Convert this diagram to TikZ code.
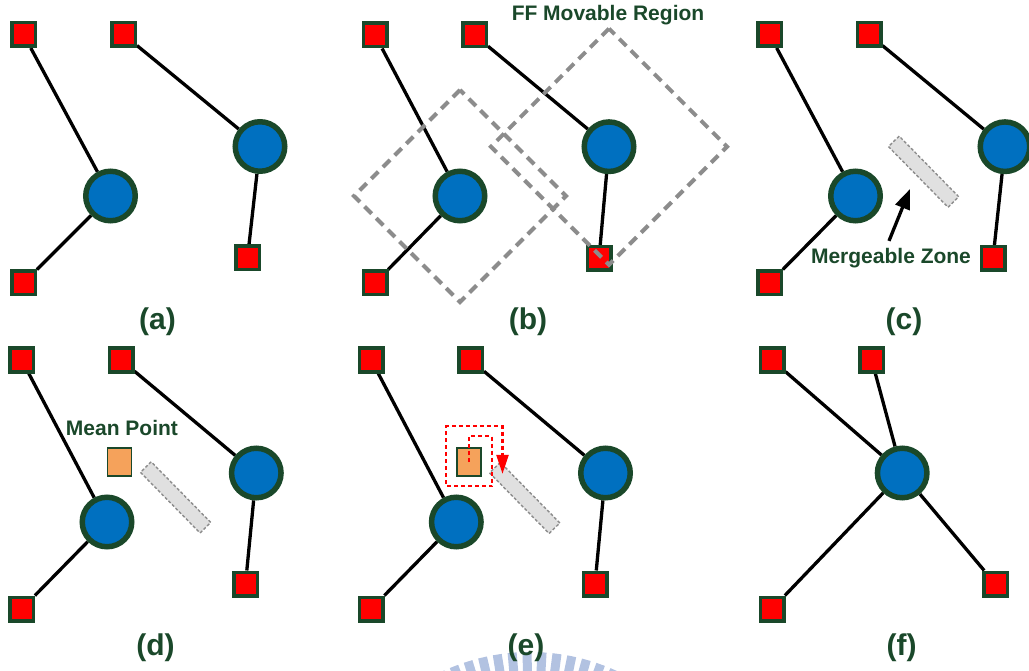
\documentclass[tikz,border=0pt]{standalone}
\usepackage{fontspec}
\setmainfont{Liberation Sans}
\usetikzlibrary{arrows.meta,backgrounds}
\definecolor{dkgreen}{RGB}{26,72,42}
\definecolor{ffblue}{RGB}{0,112,192}
\definecolor{ffred}{RGB}{255,0,0}
\definecolor{dashgray}{RGB}{140,140,140}
\definecolor{zonefill}{RGB}{224,224,224}
\definecolor{zoneline}{RGB}{140,140,140}
\definecolor{meanorange}{RGB}{245,162,91}
\definecolor{wmblue}{RGB}{178,194,225}
\begin{document}
\begin{tikzpicture}[x=1pt,y=-1pt,
  ff/.style={rectangle, draw=dkgreen, fill=ffred, line width=3.5pt, minimum size=23.5pt, inner sep=0pt},
  gate/.style={circle, draw=dkgreen, fill=ffblue, line width=5.5pt, minimum size=49.5pt, inner sep=0pt},
  wire/.style={line width=3.3pt, black},
  sublabel/.style={text=dkgreen, font=\bfseries\fontsize{30}{34}\selectfont, anchor=base, inner sep=0pt},
  note/.style={text=dkgreen, font=\bfseries\fontsize{21}{25}\selectfont, anchor=base, inner sep=0pt},
  region/.style={rectangle, draw=dashgray, line width=4pt, dash pattern=on 10pt off 6.5pt, rotate=45, inner sep=0pt},
  zone/.style={rectangle, draw=zoneline, fill=zonefill, line width=1.4pt, dash pattern=on 3pt off 2pt, rotate=-45.5, minimum width=85pt, minimum height=15pt, inner sep=0pt},
  meanpt/.style={rectangle, draw=dkgreen, fill=meanorange, line width=1.8pt, minimum width=24pt, minimum height=28pt, inner sep=0pt},
  search/.style={draw=red, line width=2.2pt, dash pattern=on 4pt off 3pt, -{Triangle[length=19pt,width=12pt,fill=red]}},
  pointer/.style={line width=3.3pt, black, -{Triangle[length=20pt,width=15pt]}}
]
\path[use as bounding box] (0,0) rectangle (1029,671);
\clip (0,0) rectangle (1029,671);

% watermark
\foreach \a in {-12,...,12} {
  \draw[wmblue, line width=9pt] ({530+175*cos(90.8+4.13*\a)},{860-175*sin(90.8+4.13*\a)}) -- ({530+208*cos(90.8+4.13*\a)},{860-208*sin(90.8+4.13*\a)});
}

% ---------- (a)
\node[ff] (a1) at (23.5,34.5) {};
\node[ff] (a2) at (123.5,34.5) {};
\node[gate] (ac1) at (110.5,196) {};
\node[gate] (ac2) at (260,146.5) {};
\node[ff] (a3) at (23.5,283) {};
\node[ff] (a4) at (247.5,258) {};
\node[sublabel] (la) at (157.5,330) {(a)};
\begin{pgfonlayer}{background}
\draw[wire] (a1) -- (ac1); \draw[wire] (ac1) -- (a3);
\draw[wire] (a2) -- (ac2); \draw[wire] (ac2) -- (a4);
\end{pgfonlayer}

% ---------- (b)
\node[ff] (b1) at (375,35) {};
\node[ff] (b2) at (474.5,35) {};
\node[gate] (bc1) at (460,196) {};
\node[gate] (bc2) at (609,146.7) {};
\node[ff] (b3) at (375,283) {};
\node[ff] (b4) at (599,258.5) {};
\node[sublabel] (lb) at (528,330) {(b)};
\begin{pgfonlayer}{background}
\draw[wire] (b1) -- (bc1); \draw[wire] (bc1) -- (b3);
\draw[wire] (b2) -- (bc2); \draw[wire] (bc2) -- (b4);
\end{pgfonlayer}
\node[region, minimum size=150pt] (br1) at (bc1) {};
\node[region, minimum size=167pt] (br2) at (bc2) {};
\node[note] (ffr) at (608,20.7) {FF Movable Region};

% ---------- (c)
\node[ff] (c1) at (769.5,34.5) {};
\node[ff] (c2) at (869,34.5) {};
\node[gate] (cc1) at (855.5,196) {};
\node[gate] (cc2) at (1005,146.7) {};
\node[ff] (c3) at (769.5,283) {};
\node[ff] (c4) at (993,258.5) {};
\node[sublabel] (lc) at (904,330) {(c)};
\begin{pgfonlayer}{background}
\draw[wire] (c1) -- (cc1); \draw[wire] (cc1) -- (c3);
\draw[wire] (c2) -- (cc2); \draw[wire] (cc2) -- (c4);
\end{pgfonlayer}
\node[zone] (cz) at (923.6,171.7) {};
\node[note] (cmz) at (891,263.3) {Mergeable Zone};
\coordinate (ctip) at (910,189);
\draw[pointer] ([xshift=-2pt,yshift=7pt]cmz.north) -- (ctip);

% ---------- (d)
\node[ff] (d1) at (21.7,360) {};
\node[ff] (d2) at (121,360) {};
\node[gate] (dc1) at (107,522) {};
\node[gate] (dc2) at (256.3,473) {};
\node[ff] (d3) at (21.7,609) {};
\node[ff] (d4) at (245.5,584) {};
\node[sublabel] (ld) at (155.5,655) {(d)};
\begin{pgfonlayer}{background}
\draw[wire] (d1) -- (dc1); \draw[wire] (dc1) -- (d3);
\draw[wire] (d2) -- (dc2); \draw[wire] (dc2) -- (d4);
\end{pgfonlayer}
\node[zone] (dz) at (175.6,497.4) {};
\node[meanpt] (dm) at (119.5,462.3) {};
\node[note] (dmt) at (122,435) {Mean Point};

% ---------- (e)
\node[ff] (e1) at (371.2,360) {};
\node[ff] (e2) at (470.5,360) {};
\node[gate] (ec1) at (456.3,522) {};
\node[gate] (ec2) at (605.5,473) {};
\node[ff] (e3) at (371.2,609) {};
\node[ff] (e4) at (595,584) {};
\node[sublabel] (le) at (526,655) {(e)};
\begin{pgfonlayer}{background}
\draw[wire] (e1) -- (ec1); \draw[wire] (ec1) -- (e3);
\draw[wire] (e2) -- (ec2); \draw[wire] (ec2) -- (e4);
\end{pgfonlayer}
\node[zone] (ez) at (524.7,497.9) {};
\node[meanpt] (em) at (469.2,462.2) {};
\draw[search] (em.center) -- ++(0,-26) -- ++(22.7,0) -- ++(0,50) -- ++(-45.7,0) -- ++(0,-60) -- ++(56.3,0) -- ++(0,47.7);

% ---------- (f)
\node[ff] (f1) at (772,360) {};
\node[ff] (f2) at (871.7,360) {};
\node[gate] (fc) at (902.2,473) {};
\node[ff] (f3) at (772,609) {};
\node[ff] (f4) at (995.5,584) {};
\node[sublabel] (lf) at (901.7,655) {(f)};
\begin{pgfonlayer}{background}
\draw[wire] (f1) -- (fc); \draw[wire] (f2) -- (fc);
\draw[wire] (fc) -- (f3); \draw[wire] (fc) -- (f4);
\end{pgfonlayer}
\end{tikzpicture}
\end{document}
